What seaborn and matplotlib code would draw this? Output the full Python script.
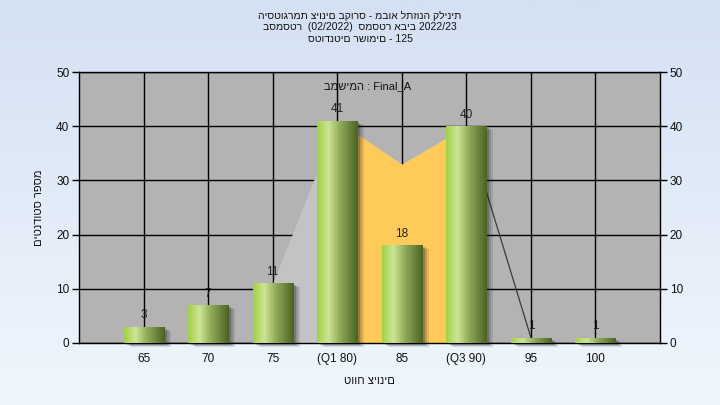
import numpy as np
import pandas as pd
import matplotlib
matplotlib.use('Agg')
import matplotlib.pyplot as plt
import matplotlib.transforms as mtransforms
from matplotlib.colors import LinearSegmentedColormap
from matplotlib.patches import Rectangle
import seaborn as sns

# Data
grades = ['65', '70', '75', '(Q1 80)', '85', '(Q3 90)', '95', '100']
counts = [3, 7, 11, 41, 18, 40, 1, 1]
curve = [np.nan, np.nan, 11, 41, 33, 40, 1, np.nan]
y_ticks = [0, 10, 20, 30, 40, 50]

# texts, in the glyph order the source chart shows them
title_lines = [
    'היסטוגרמת ציונים בקורס - מבוא לתזונה קלינית',
    'בסמסטר  (02/2022)  סמסטר אביב 2022/23',
    'סטודנטים רשומים - 125',
]
task_label = 'במשימה : Final_A'
x_title = 'טווח ציונים'
y_title = 'מספר סטודנטים'[::-1]

sns.set_theme(style='white')
plt.rcParams['font.family'] = ['Liberation Sans', 'DejaVu Sans']

fig = plt.figure(figsize=(7.2, 4.05), dpi=100)

# light blue gradient behind everything
bg = fig.add_axes([0, 0, 1, 1], zorder=-10)
bg_cmap = LinearSegmentedColormap.from_list('bg', ['#d4e1f3', '#f0f6fd'])
bg.imshow(np.linspace(0, 1, 256).reshape(-1, 1), aspect='auto', cmap=bg_cmap, extent=[0, 1, 0, 1])
bg.axis('off')

ax = fig.add_axes([0.1097, 0.1531, 0.8070, 0.6691])
ax.set_facecolor('#b3b3b3')

df = pd.DataFrame({'grade': grades, 'count': counts})
sns.barplot(data=df, x='grade', y='count', width=0.62, ax=ax, color='#8ab04a',
            saturation=1, errorbar=None, zorder=3)

x = np.arange(len(grades))
curve = np.array(curve, dtype=float)

# distribution area, quartile band in yellow
q1 = [i for i, g in enumerate(grades) if 'Q1' in g][0]
q3 = [i for i, g in enumerate(grades) if 'Q3' in g][0]
ax.fill_between(x[:q3 + 1], curve[:q3 + 1], color='#c3c3c3', zorder=2, lw=0)
ax.fill_between(x[q1:q3 + 1], curve[q1:q3 + 1], color='#fecb5b', zorder=2.2, lw=0)
ax.plot(x[q3:q3 + 2], curve[q3:q3 + 2], color='#3a3a3a', lw=0.9, zorder=2.3)

# cylinder-style gradient and shadow for the bars
bar_cmap = LinearSegmentedColormap.from_list(
    'bar', [(0, '#a2d044'), (0.28, '#cde596'), (0.55, '#93ad5c'), (1, '#4a6322')])
grad_row = np.linspace(0, 1, 128).reshape(1, -1)
for p in list(ax.patches):
    x0, w, h = p.get_x(), p.get_width(), p.get_height()
    for dx, dy, a in [(7, -4, 0.12), (5, -3, 0.18), (3, -2, 0.25)]:
        tr = ax.transData + mtransforms.ScaledTranslation(dx / 100, dy / 100, fig.dpi_scale_trans)
        ax.add_patch(Rectangle((x0, 0), w, h, transform=tr, color='#202020', alpha=a,
                               lw=0, zorder=2.5, clip_on=False))
    im = ax.imshow(grad_row, extent=[x0, x0 + w, 0, h], aspect='auto', cmap=bar_cmap,
                   zorder=3.5, interpolation='bilinear')
    im.set_clip_path(p)
    p.set_facecolor('none')
    p.set_edgecolor('none')

for i, c in enumerate(counts):
    ax.text(i, c + 1.0, str(c), ha='center', va='bottom', fontsize=8.5, color='#202020', zorder=5)

ax.set_xlim(-1, len(grades))
ax.set_ylim(0, 50)
ax.set_yticks(y_ticks)
ax.set_xticks(x)
ax.set_xticklabels(grades)
ax.grid(True, color='black', lw=1)
ax.set_axisbelow(True)
for s in ax.spines.values():
    s.set_visible(True)
    s.set_color('black')
    s.set_linewidth(1)
ax.tick_params(axis='both', direction='out', length=5, width=1, color='black',
               labelsize=8.5, labelcolor='#111111', pad=2)
ax.set_xlabel(x_title, fontsize=8, color='#111111', labelpad=8)
ax.set_ylabel(y_title, fontsize=8, color='#111111', labelpad=9)

ax2 = ax.twinx()
ax2.set_ylim(0, 50)
ax2.set_yticks(y_ticks)
ax2.grid(False)
ax2.tick_params(axis='y', direction='out', length=5, width=1, color='black',
                labelsize=8.5, labelcolor='#111111', pad=2)
for s in ax2.spines.values():
    s.set_visible(False)

ax.text(0.496, 0.948, task_label, transform=ax.transAxes, ha='center', va='center',
        fontsize=8, color='#111111', zorder=6)

fig.text(0.5, 1 - 11 / 405, '\n'.join(title_lines), ha='center', va='top',
         fontsize=7.5, color='#111111', linespacing=1.15)

fig.savefig('out.png', dpi=100)
